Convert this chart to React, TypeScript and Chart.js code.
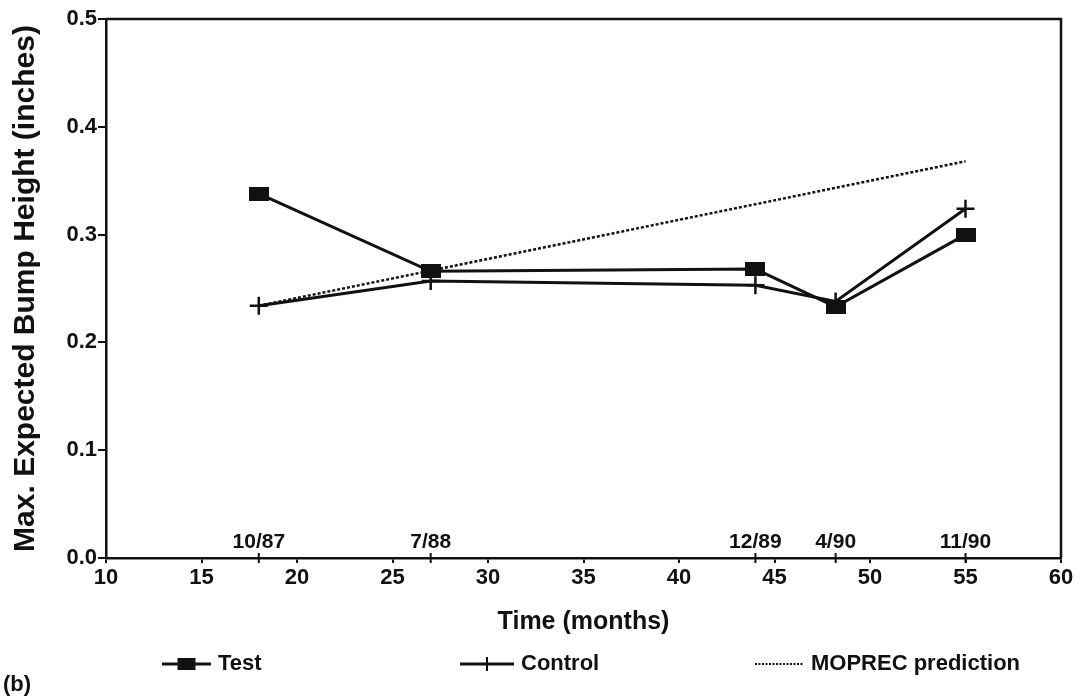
import React, { useEffect, useRef } from 'react';
import { Chart, registerables } from 'chart.js';

Chart.register(...registerables);

// ---- data ----
const months = [18, 27, 44, 48.2, 55];
const dateLabels = ['10/87', '7/88', '12/89', '4/90', '11/90'];
const testValues = [0.338, 0.266, 0.268, 0.233, 0.3];
const controlValues = [0.234, 0.257, 0.253, 0.238, 0.324];
const moprecMonths = [18, 55];
const moprecValues = [0.234, 0.368];
const seriesNames = ['Test', 'Control', 'MOPREC prediction'];
const xTitle = 'Time (months)';
const yTitle = 'Max. Expected Bump Height (inches)';
const panelLabel = '(b)';

const FONT = '"Liberation Sans", Arial, Helvetica, sans-serif';
const INK = '#111111';

function makeRect(w: number, h: number) {
  const c = document.createElement('canvas');
  c.width = w;
  c.height = h;
  const g = c.getContext('2d')!;
  g.fillStyle = INK;
  g.fillRect(0, 0, w, h);
  return c;
}

const framePlugin = {
  id: 'frameAndExtras',
  afterDraw(chart: any) {
    const { ctx, chartArea } = chart;
    const xs = chart.scales.x;
    ctx.save();
    // top and right frame lines
    ctx.strokeStyle = INK;
    ctx.lineWidth = 2.5;
    ctx.beginPath();
    ctx.moveTo(chartArea.left, chartArea.top);
    ctx.lineTo(chartArea.right, chartArea.top);
    ctx.lineTo(chartArea.right, chartArea.bottom);
    ctx.stroke();

    // date labels on the x axis
    ctx.fillStyle = INK;
    ctx.font = `bold 21px ${FONT}`;
    ctx.textAlign = 'center';
    ctx.textBaseline = 'alphabetic';
    ctx.lineWidth = 2;
    months.forEach((m, i) => {
      const px = xs.getPixelForValue(m);
      ctx.beginPath();
      ctx.moveTo(px, chartArea.bottom - 5);
      ctx.lineTo(px, chartArea.bottom + 5);
      ctx.stroke();
      ctx.fillText(dateLabels[i], px, chartArea.bottom - 10);
    });

    // legend
    const ly = 664;
    ctx.font = `bold 22px ${FONT}`;
    ctx.textAlign = 'left';
    ctx.textBaseline = 'middle';
    const items = [
      { x: 162, w: 49 },
      { x: 460, w: 54 },
      { x: 755, w: 49 },
    ];
    items.forEach((it, i) => {
      ctx.strokeStyle = INK;
      ctx.setLineDash(i === 2 ? [2, 1.5] : []);
      ctx.lineWidth = i === 2 ? 1.8 : 3;
      ctx.beginPath();
      ctx.moveTo(it.x, ly);
      ctx.lineTo(it.x + it.w, ly);
      ctx.stroke();
      ctx.setLineDash([]);
      const cx = it.x + it.w / 2;
      if (i === 0) {
        ctx.fillRect(cx - 9, ly - 6, 18, 12);
      } else if (i === 1) {
        ctx.lineWidth = 2;
        ctx.beginPath();
        ctx.moveTo(cx, ly - 7);
        ctx.lineTo(cx, ly + 7);
        ctx.stroke();
      }
      ctx.fillText(seriesNames[i], it.x + it.w + 7, ly);
    });

    // panel label
    ctx.font = `bold 22px ${FONT}`;
    ctx.textBaseline = 'alphabetic';
    ctx.fillText(panelLabel, 3, 691);
    ctx.restore();
  },
};

export default function App() {
  const ref = useRef<HTMLCanvasElement>(null);

  useEffect(() => {
    if (!ref.current) return;
    const rectImg = makeRect(20, 14);
    const chart = new Chart(ref.current, {
      type: 'line',
      data: {
        datasets: [
          {
            label: seriesNames[2],
            data: moprecMonths.map((m, i) => ({ x: m, y: moprecValues[i] })),
            borderColor: INK,
            borderWidth: 2.5,
            borderDash: [3, 2],
            pointRadius: 0,
            fill: false,
          },
          {
            label: seriesNames[1],
            data: months.map((m, i) => ({ x: m, y: controlValues[i] })),
            borderColor: INK,
            borderWidth: 3,
            pointStyle: 'cross',
            pointRadius: 9,
            pointBorderWidth: 2.5,
            pointBorderColor: INK,
            fill: false,
          },
          {
            label: seriesNames[0],
            data: months.map((m, i) => ({ x: m, y: testValues[i] })),
            borderColor: INK,
            borderWidth: 3,
            pointStyle: rectImg as any,
            pointRadius: 10,
            fill: false,
          },
        ],
      },
      options: {
        responsive: false,
        animation: false,
        layout: { padding: { left: 0, right: 22, top: 19, bottom: 55 } },
        plugins: {
          legend: { display: false },
          tooltip: { enabled: false },
        },
        scales: {
          x: {
            type: 'linear',
            min: 10,
            max: 60,
            afterFit: (s: any) => {
              s.height = 87;
            },
            ticks: {
              stepSize: 5,
              color: INK,
              font: { family: FONT, size: 22, weight: 'bold' },
              padding: 2,
              maxRotation: 0,
              autoSkip: false,
            },
            grid: {
              drawOnChartArea: false,
              drawTicks: true,
              tickLength: 5,
              color: INK,
              lineWidth: 2,
            },
            border: { color: INK, width: 2.5 },
            title: {
              display: true,
              text: xTitle,
              color: INK,
              font: { family: FONT, size: 25, weight: 'bold' },
              padding: { top: 0, bottom: 8 },
            },
          },
          y: {
            min: 0,
            max: 0.5,
            afterFit: (s: any) => {
              s.width = 106;
            },
            ticks: {
              stepSize: 0.1,
              color: INK,
              font: { family: FONT, size: 22, weight: 'bold' },
              padding: 1,
              callback: (v: any) => Number(v).toFixed(1),
            },
            grid: {
              drawOnChartArea: false,
              drawTicks: true,
              tickLength: 8,
              color: INK,
              lineWidth: 2,
            },
            border: { color: INK, width: 2.5 },
            title: {
              display: true,
              text: yTitle,
              color: INK,
              font: { family: FONT, size: 30, weight: 'bold' },
              padding: { top: 8, bottom: 0 },
            },
          },
        },
      },
      plugins: [framePlugin],
    });
    return () => chart.destroy();
  }, []);

  return (
    <div style={{ position: 'fixed', left: 0, top: 0, width: 1083, height: 700, background: '#fff' }}>
      <canvas ref={ref} width={1083} height={700} />
    </div>
  );
}
